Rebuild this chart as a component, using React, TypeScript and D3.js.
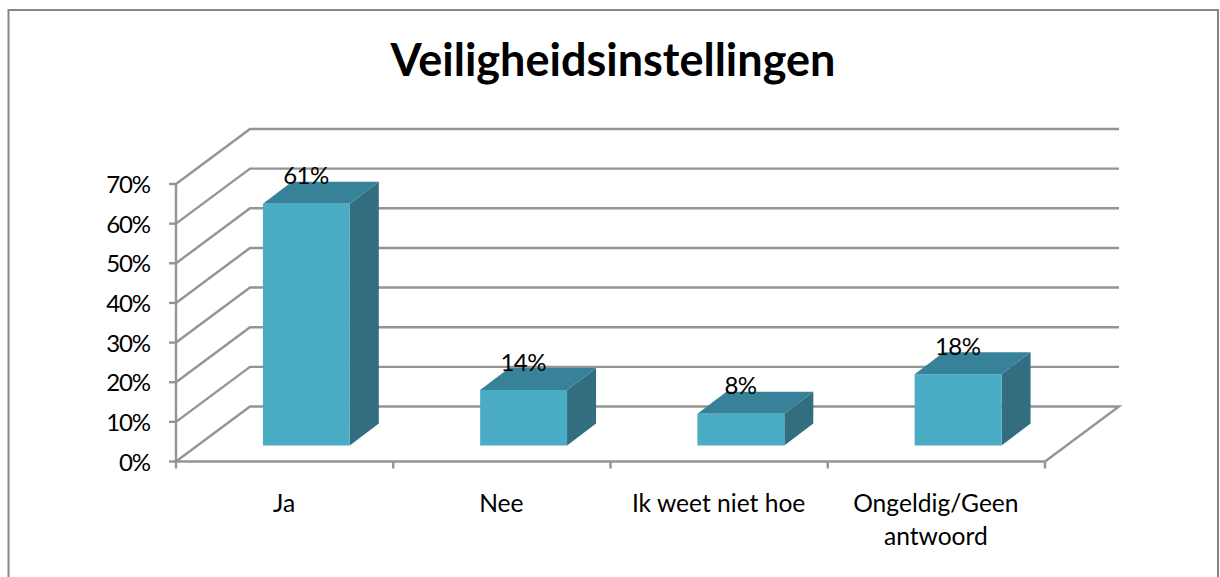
import React from "react";
import * as d3 from "d3";

const categories = ["Ja", "Nee", "Ik weet niet hoe", "Ongeldig/Geen antwoord"];
const categoryLines = [["Ja"], ["Nee"], ["Ik weet niet hoe"], ["Ongeldig/Geen", "antwoord"]];
const values = [61, 14, 8, 18];
const valueLabels = ["61%", "14%", "8%", "18%"];
const yTicks = [0, 10, 20, 30, 40, 50, 60, 70];
const title = "Veiligheidsinstellingen";

const W = 1220, H = 577;
const dxWall = 74, dyWall = -55;
const dxBar = 29, dyBar = -22;
const font = "Lato, Carlito, sans-serif";
const grid = "#949494";
const gridWidth = 2.4;

const x = d3.scaleBand<string>().domain(categories).range([176, 1045]).paddingInner(0).paddingOuter(0);
const y = d3.scaleLinear().domain([0, 70]).range([461.5, 184]);
const barOffsetY = -16;
const line = d3.line<[number, number]>();

export default function App() {
  const step = x.step();
  return (
    <svg width={W} height={H} viewBox={`0 0 ${W} ${H}`} style={{ position: "fixed", left: 0, top: 0, background: "#fff" }}>
      <path d={`M8.5 ${H} V10 H1218 V${H}`} fill="none" stroke="#868686" strokeWidth={2} />
      <text x={613} y={76} textAnchor="middle" fontFamily={font} fontWeight={700} fontSize={45} fill="#000">{title}</text>

      {yTicks.map((t) => (
        <path key={t} fill="none" stroke={grid} strokeWidth={gridWidth}
          d={line([[176, y(t)], [176 + dxWall, y(t) + dyWall], ...(t === 0 ? [[1045 + dxWall, y(t) + dyWall], [1045, y(t)]] as [number, number][] : [[1119, y(t) + dyWall]] as [number, number][])])!} />
      ))}
      <path d={line([[176, y(0)], [176, y(70)]])!} stroke={grid} strokeWidth={gridWidth} fill="none" />
      <path d={line([[176, y(0)], [1045, y(0)]])!} stroke={grid} strokeWidth={gridWidth} fill="none" />
      {yTicks.map((t) => (
        <g key={t}>
          <path d={line([[169, y(t)], [176, y(t)]])!} stroke={grid} strokeWidth={gridWidth} />
          <text x={150} y={y(t) + 9} textAnchor="end" fontFamily={font} fontSize={24} letterSpacing={-1.1} fill="#000">{t}%</text>
        </g>
      ))}
      {[...categories.map((c) => x(c)!), 1045].map((px, i) => (
        <path key={i} d={line([[px, y(0)], [px, y(0) + 7]])!} stroke={grid} strokeWidth={gridWidth} />
      ))}

      {categories.map((c, i) => {
        const x0 = x(c)! + step * 0.4;
        const x1 = x0 + step * 0.4;
        const base = y(0) + barOffsetY;
        const top = y(values[i]) + barOffsetY;
        return (
          <g key={c}>
            <path d={line([[x1, top], [x1 + dxBar, top + dyBar], [x1 + dxBar, base + dyBar], [x1, base]])! + "Z"} fill="#326d80" />
            <path d={line([[x0, top], [x0 + dxBar, top + dyBar], [x1 + dxBar, top + dyBar], [x1, top]])! + "Z"} fill="#388299" />
            <rect x={x0} y={top} width={x1 - x0} height={base - top} fill="#4bacc6" />
            <text x={x0 + 43} y={top - 19.5} textAnchor="middle" fontFamily={font} fontSize={24} letterSpacing={-0.6} fill="#000">{valueLabels[i]}</text>
          </g>
        );
      })}

      {categoryLines.map((lines, i) => (
        <text key={i} textAnchor="middle" fontFamily={font} fontSize={24.6} fill="#000">
          {lines.map((l, j) => (
            <tspan key={j} x={x(categories[i])! + step / 2 - 0.5} y={512 + j * 33}>{l}</tspan>
          ))}
        </text>
      ))}
    </svg>
  );
}
